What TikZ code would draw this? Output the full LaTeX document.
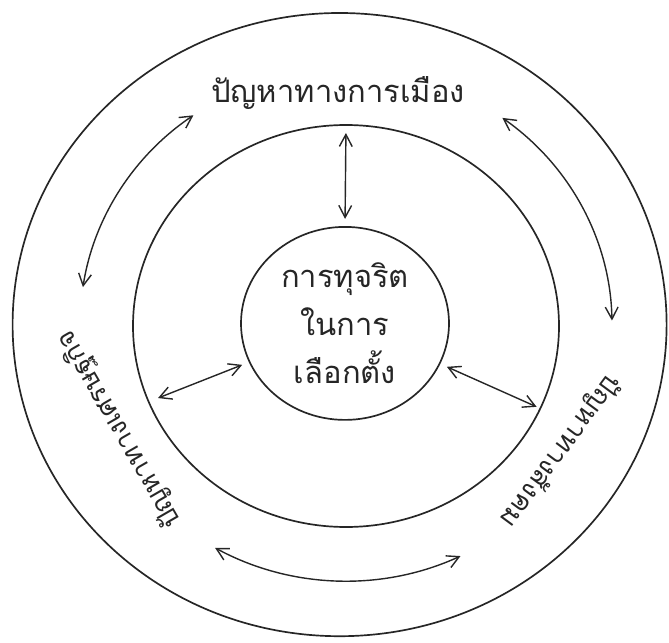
\documentclass[tikz,border=0pt]{standalone}
\usepackage{fontspec}
\newfontfamily\thaifont[Script=Thai]{Loma}
\usetikzlibrary{arrows.meta,shapes.geometric}

\begin{document}
\begin{tikzpicture}[
  ring/.style={ellipse,draw=black!85,line width=1.2pt,inner sep=0pt,outer sep=0pt},
  link/.style={line width=1pt,draw=black!85,
    {Straight Barb[length=3mm,width=3.2mm]}-{Straight Barb[length=3mm,width=3.2mm]}},
  lbl/.style={font=\thaifont\fontsize{22}{34}\selectfont,text=black!85},
  side/.style={font=\thaifont\fontsize{19}{24}\selectfont,text=black!85}
]
\useasboundingbox (-8.65,-7.925) rectangle (8.075,8.125);

% ---- rings ----
\node[ring,minimum width=16.35cm,minimum height=15.58cm] (outer) at (-0.16,0.01) {};
\node[ring,minimum width=10.65cm,minimum height=10.05cm] (mid) at (0,-0.025) {};
\node[ring,minimum width=5.2cm,minimum height=4.825cm] (inner) at (-0.025,0.04) {};
\node[lbl,align=center] (core) at (inner) {การทุจริต\\ในการ\\เลือกตั้ง};

% ---- labels in the outer ring ----
\node[lbl,anchor=base] (pol) at (-0.2,5.55) {ปัญหาทางการเมือง};
\node[side,rotate=120] (eco) at (-5.65,-2.6) {ปัญหาทางเศรษฐกิจ};
\node[side,rotate=-126.5] (soc) at (5.35,-3.15) {ปัญหาทางสังคม};

% ---- radial arrows ----
\draw[link,shorten <=2mm,shorten >=2mm] (inner.90) -- (mid.90);
\draw[link,shorten <=2mm,shorten >=2.5mm] (inner.202) -- (mid.201);
\draw[link,shorten <=2mm,shorten >=1mm] (inner.337) -- (mid.337);

% ---- arrows round the ring ----
\coordinate (tl) at (125:6.65 and 6.4);
\coordinate (tr) at (54:6.65 and 6.4);
\coordinate (bl) at (-119.5:6.65 and 6.4);
\draw[link] (tl) arc[start angle=125,end angle=171.5,x radius=6.65,y radius=6.4];
\draw[link] (tr) arc[start angle=54,end angle=1,x radius=6.65,y radius=6.4];
\draw[link] (bl) arc[start angle=-119.5,end angle=-64.5,x radius=6.65,y radius=6.4];

\end{tikzpicture}
\end{document}
